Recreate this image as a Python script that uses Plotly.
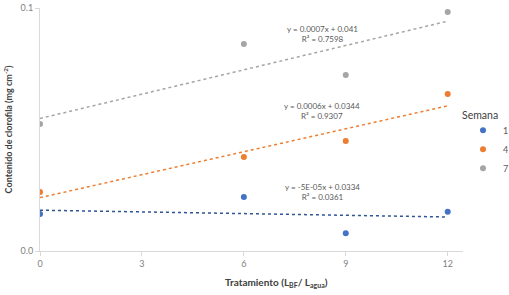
import numpy as np
import plotly.graph_objects as go

tratamiento = [0, 6, 9, 12]
semana_labels = ["1", "4", "7"]
semana1 = [0.03305, 0.03444, 0.03146, 0.03323]
semana4 = [0.03486, 0.03774, 0.03905, 0.04292]
semana7 = [0.04045, 0.04704, 0.04449, 0.04967]
equations = ["y = -5E-05x + 0.0334<br>R² = 0.0361",
             "y = 0.0006x + 0.0344<br>R² = 0.9307",
             "y = 0.0007x + 0.041<br>R² = 0.7598"]
y_tickvals = [0.03, 0.05]
y_ticktext = ["0.0", "0.1"]
x_tickvals = [0, 3, 6, 9, 12]

colors = ["#4472C4", "#ED7D31", "#A5A5A5"]
line_colors = ["#2F5597", "#ED7D31", "#A5A5A5"]
series = [semana1, semana4, semana7]
eq_pos = [(0.667, 0.243), (0.667, 0.576), (0.667, 0.893)]

FONT = "Lato"
fig = go.Figure()
for name, vals, c, lc in zip(semana_labels, series, colors, line_colors):
    x = np.array(tratamiento, dtype=float)
    y = np.array(vals)
    m, b = np.polyfit(x, y, 1)
    xs = np.array([x.min(), x.max()])
    fig.add_trace(go.Scatter(x=xs, y=m * xs + b, mode="lines",
                             line=dict(color=lc, width=1.5, dash="dot"),
                             showlegend=False, hoverinfo="skip"))
    fig.add_trace(go.Scatter(x=tratamiento, y=vals, mode="markers", name=name,
                             marker=dict(color=c, size=6)))

for txt, (px, py) in zip(equations, eq_pos):
    fig.add_annotation(x=px, y=py, xref="paper", yref="paper", text=txt,
                       xanchor="center", yanchor="middle",
                       showarrow=False, font=dict(family=FONT, size=8, color="#595959"),
                       align="center")

fig.add_annotation(x=0.993, y=0.56, xref="paper", yref="paper", text="Semana",
                   xanchor="left", yanchor="middle", showarrow=False,
                   font=dict(family=FONT, size=10.5, color="#404040"))

fig.add_annotation(x=0.56, y=-0.128, xref="paper", yref="paper",
                   text="<b>Tratamiento (L<sub>BF</sub>/ L<sub>agua</sub>)</b>",
                   xanchor="center", yanchor="middle", showarrow=False,
                   font=dict(family=FONT, size=10, color="#404040"))

fig.update_layout(
    width=509, height=295,
    margin=dict(l=40, r=46, t=8, b=44, autoexpand=False),
    paper_bgcolor="white", plot_bgcolor="white",
    font=dict(family=FONT, color="#595959"),
    legend=dict(x=1.0, y=0.557, xanchor="left", yanchor="top",
                font=dict(size=9, color="#595959"), itemwidth=30,
                tracegroupgap=0, bgcolor="rgba(0,0,0,0)"),
)
fig.update_xaxes(range=[0, 12.45], tickvals=x_tickvals, showgrid=False,
                 showline=True, linecolor="#D9D9D9", linewidth=1,
                 ticks="outside", ticklen=4, tickcolor="#D9D9D9",
                 tickfont=dict(size=9, color="#7F7F7F"), zeroline=False)
fig.update_yaxes(range=[0.03, 0.05], tickvals=y_tickvals, ticktext=y_ticktext,
                 showgrid=True, gridcolor="#D9D9D9", showline=True,
                 linecolor="#D9D9D9", ticks="outside", ticklen=4, tickcolor="#D9D9D9",
                 tickfont=dict(size=9, color="#7F7F7F"), zeroline=False,
                 title=dict(text="<b>Contenido de clorofila (mg cm<sup>-2</sup>)</b>",
                            font=dict(size=9, color="#404040"), standoff=6))

fig.write_html("out.html", config={"displayModeBar": False},
               post_script="document.body.style.margin='0';document.body.style.overflow='hidden';")
